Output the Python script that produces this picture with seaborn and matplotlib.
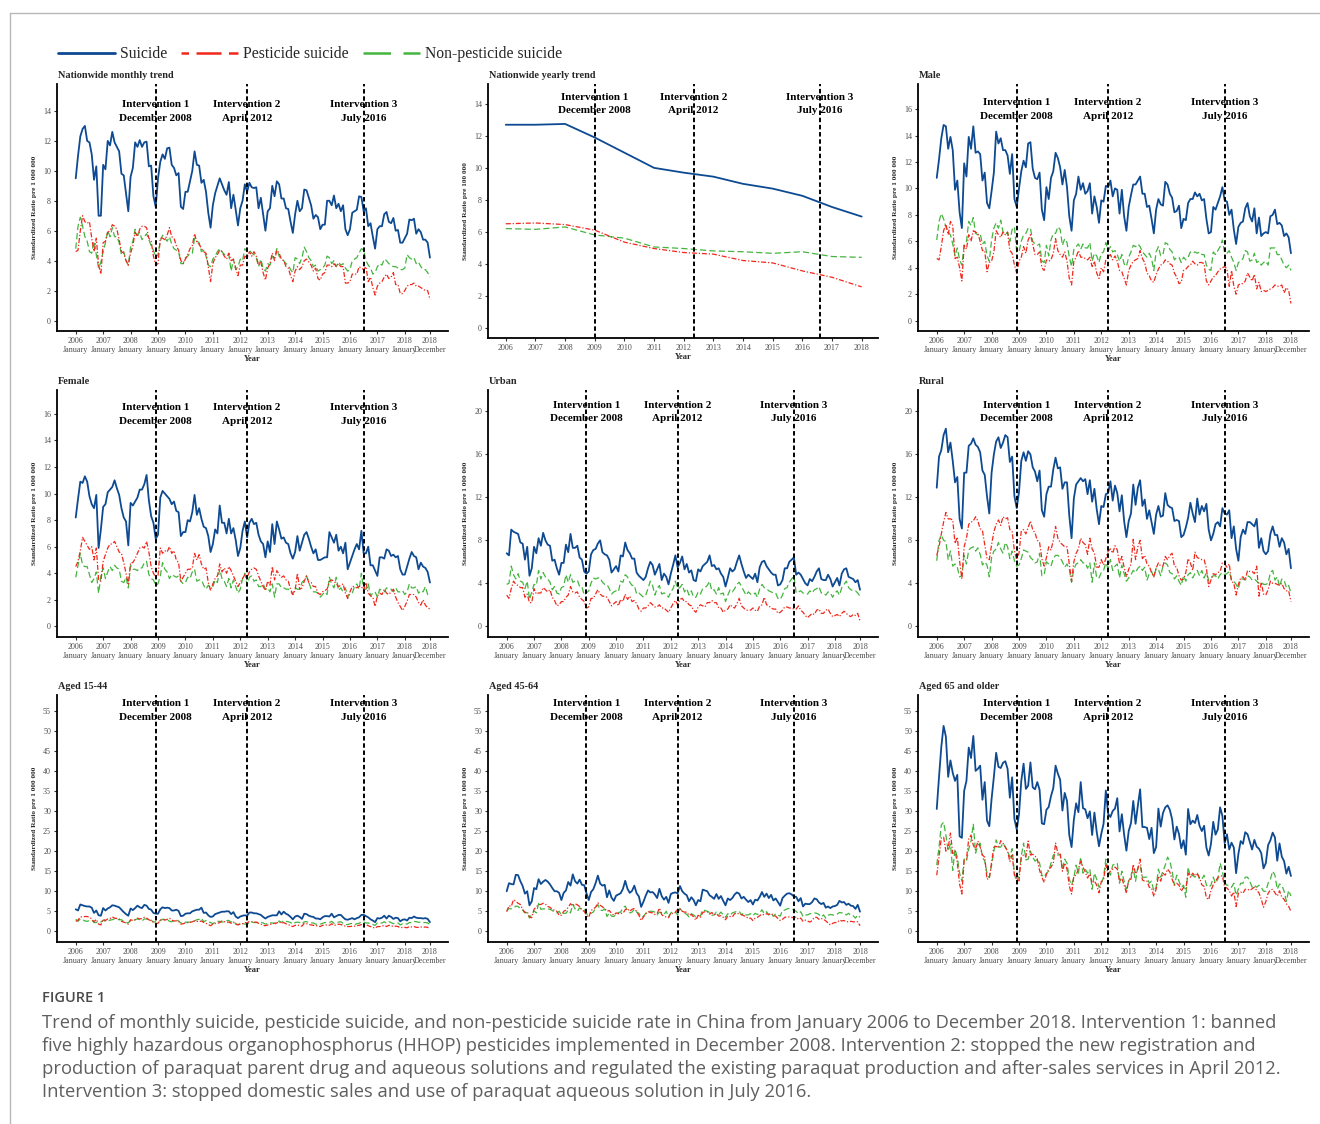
import numpy as np
import pandas as pd
import matplotlib
matplotlib.use("Agg")
import matplotlib.pyplot as plt
import seaborn as sns
from matplotlib.lines import Line2D

# ---------------- data ----------------
years = list(range(2006, 2019))
series_names = ["Suicide", "Pesticide suicide", "Non-pesticide suicide"]
month_ticks = [0, 12, 24, 36, 48, 60, 72, 84, 96, 108, 120, 132, 144, 155]
month_tick_labels = [f"{y}\nJanuary" for y in years] + ["2018\nDecember"]
interventions_month = [35, 75, 126]
interventions_year = [2009.0, 2012.33, 2016.58]
intervention_labels = ["Intervention 1\nDecember 2008", "Intervention 2\nApril 2012",
                       "Intervention 3\nJuly 2016"]

# Nationwide monthly
nat_suicide = [
    9.5, 11.0, 12.3, 12.8, 13.0, 12.0, 11.9, 11.1, 9.4, 10.3, 7.0, 7.0,
    10.4, 10.1, 12.0, 11.7, 12.6, 11.9, 11.6, 11.3, 9.8, 9.7, 8.5, 7.3,
    9.6, 10.2, 11.9, 11.6, 12.05, 11.6, 11.9, 11.95, 10.3, 10.35, 8.3, 7.6,
    9.5, 10.6, 11.1, 10.8, 11.5, 11.55, 10.4, 10.2, 9.7, 9.85, 7.6, 7.45,
    8.6, 8.6, 9.3, 10.0, 11.3, 10.4, 10.35, 9.2, 9.4, 8.6, 7.2, 6.2,
    7.7, 8.5, 9.0, 9.5, 9.1, 8.7, 8.4, 9.25, 7.5, 8.4, 7.4, 6.35,
    7.5, 8.0, 9.1, 8.6, 9.2, 8.9, 8.85, 8.9, 7.5, 8.2, 7.1, 6.0,
    7.3, 7.5, 9.0, 8.3, 9.3, 9.1, 8.15, 8.15, 7.5, 7.45, 6.6, 5.85,
    7.1, 8.0, 7.3, 7.5, 8.75, 8.7, 8.2, 7.7, 6.8, 7.05, 6.9, 6.1,
    6.4, 6.4, 8.0, 8.0, 7.7, 8.35, 7.5, 7.8, 7.3, 7.7, 6.1, 5.7,
    6.1, 7.2, 7.3, 7.4, 8.3, 8.25, 7.3, 7.5, 6.3, 6.5, 5.6, 4.8,
    6.1, 6.3, 6.3, 7.1, 7.25, 6.6, 6.5, 6.85, 6.0, 6.05, 5.2, 5.2,
    5.5, 5.8, 6.75, 6.7, 6.8, 5.8, 6.1, 5.9, 5.4, 5.4, 5.2, 4.2]
nat_pesticide = [
    4.6, 4.7, 6.0, 7.0, 6.6, 6.5, 6.6, 5.5, 4.6, 5.5, 3.7, 3.1,
    5.2, 5.3, 5.9, 6.0, 6.4, 6.3, 6.1, 5.4, 4.6, 4.5, 4.0, 3.7,
    4.5, 5.0, 5.9, 5.6, 6.1, 6.3, 6.3, 6.2, 5.5, 5.3, 4.3, 3.7,
    3.8, 5.5, 5.5, 5.4, 5.7, 6.2, 5.6, 5.5, 5.0, 4.7, 4.0, 3.8,
    4.1, 4.4, 4.8, 5.0, 5.8, 5.2, 5.1, 4.8, 4.6, 4.5, 3.6, 2.6,
    3.8, 4.2, 4.4, 4.7, 4.6, 4.3, 4.1, 4.5, 4.0, 4.1, 3.5, 3.0,
    3.7, 3.7, 4.3, 4.2, 4.6, 4.3, 4.6, 4.3, 3.7, 3.9, 3.2, 2.7,
    3.5, 3.8, 4.5, 4.0, 4.7, 4.5, 4.1, 4.0, 3.6, 3.5, 3.0, 2.6,
    3.3, 3.6, 3.4, 3.6, 4.0, 4.1, 3.9, 3.7, 3.3, 3.5, 2.8, 2.7,
    3.1, 3.2, 3.7, 3.7, 3.6, 3.8, 3.6, 3.8, 3.6, 3.6, 2.5, 2.5,
    2.6, 3.1, 3.1, 3.1, 3.6, 3.5, 3.4, 3.6, 2.6, 2.9, 2.2, 1.7,
    2.3, 2.5, 2.6, 2.9, 3.1, 2.8, 2.9, 3.2, 2.4, 2.4, 1.8, 1.8,
    2.0, 2.3, 2.4, 2.4, 2.5, 2.3, 2.3, 2.2, 2.1, 2.0, 2.0, 1.4]
nat_nonpest = [
    4.8, 6.3, 6.9, 6.3, 5.6, 5.3, 4.6, 4.5, 5.3, 4.4, 3.5, 3.9,
    4.6, 5.2, 6.0, 5.6, 6.2, 5.6, 5.6, 5.2, 4.4, 4.6, 4.0, 3.7,
    4.9, 5.3, 6.1, 5.7, 5.9, 5.4, 5.6, 5.8, 5.4, 5.0, 4.7, 4.2,
    4.4, 5.3, 5.7, 5.5, 5.3, 5.6, 5.1, 4.8, 4.7, 4.6, 3.8, 3.8,
    4.2, 4.3, 4.5, 4.5, 5.5, 5.3, 5.2, 4.6, 4.7, 4.3, 3.7, 3.6,
    4.1, 4.3, 4.6, 4.8, 4.6, 4.4, 4.5, 4.4, 3.3, 4.1, 3.4, 3.6,
    4.1, 4.0, 4.8, 4.6, 4.7, 4.5, 4.4, 4.2, 3.6, 4.1, 3.5, 3.3,
    3.8, 3.7, 4.3, 4.2, 4.8, 4.3, 4.1, 4.0, 3.8, 3.7, 3.4, 3.2,
    4.2, 4.1, 3.8, 4.2, 4.9, 4.6, 4.2, 4.0, 3.6, 3.7, 3.3, 3.4,
    3.5, 3.7, 4.3, 4.2, 3.8, 4.0, 3.6, 3.9, 3.7, 3.8, 3.5, 3.3,
    3.4, 4.0, 4.1, 4.2, 4.5, 4.8, 4.7, 4.0, 3.7, 3.5, 3.1, 3.2,
    3.6, 3.8, 3.7, 4.1, 4.0, 3.8, 3.7, 3.6, 3.6, 3.5, 3.4, 3.4,
    3.5, 4.4, 4.2, 4.1, 4.2, 3.8, 3.9, 3.6, 3.4, 3.4, 3.2, 2.9]

# Nationwide yearly
year_suicide = [12.7, 12.7, 12.75, 11.9, 10.95, 10.0, 9.7, 9.45, 9.0, 8.7, 8.25, 7.55, 6.95]
year_pesticide = [6.5, 6.55, 6.45, 6.1, 5.35, 4.95, 4.7, 4.6, 4.2, 4.05, 3.55, 3.15, 2.55]
year_nonpest = [6.2, 6.15, 6.3, 5.8, 5.6, 5.05, 4.95, 4.8, 4.75, 4.65, 4.75, 4.45, 4.4]

# Male
male_suicide = [
    10.8, 12.2, 13.8, 14.8, 14.7, 13.0, 13.9, 12.9, 9.9, 10.6, 8.2, 7.0,
    11.9, 10.9, 13.9, 13.0, 14.7, 12.7, 12.8, 12.6, 10.6, 11.2, 8.9, 8.5,
    9.8, 11.2, 14.3, 13.4, 13.8, 12.9, 12.9, 12.5, 11.1, 12.6, 9.2, 8.6,
    10.0, 11.3, 12.1, 11.6, 13.4, 13.5, 11.5, 10.8, 10.7, 11.2, 8.4, 7.6,
    10.1, 9.2, 10.8, 11.3, 12.7, 12.3, 11.6, 10.3, 11.4, 10.1, 7.9, 6.8,
    9.1, 9.6, 10.9, 9.9, 10.4, 9.6, 9.8, 10.4, 8.1, 9.4, 8.6, 7.4,
    9.1, 9.0, 10.2, 10.1, 10.6, 9.4, 10.0, 9.9, 8.1, 9.9, 7.9, 6.8,
    8.6, 9.5, 10.3, 10.3, 10.6, 10.9, 9.6, 9.6, 8.6, 8.7, 7.7, 6.6,
    8.4, 9.2, 8.8, 8.7, 10.5, 10.3, 9.6, 9.3, 8.2, 8.3, 8.7, 7.0,
    7.7, 7.6, 8.9, 9.2, 9.2, 9.7, 9.4, 9.6, 9.1, 9.2, 7.7, 6.6,
    6.7, 8.6, 8.4, 8.9, 9.4, 10.1, 9.1, 9.0, 8.0, 8.4, 6.9, 5.8,
    7.1, 7.4, 7.5, 8.5, 8.9, 7.9, 7.5, 8.5, 6.6, 7.8, 6.4, 6.6,
    6.7, 6.6, 7.9, 8.0, 8.4, 7.3, 7.4, 7.2, 6.4, 6.6, 6.3, 5.1]
male_pesticide = [
    4.7, 4.6, 5.6, 6.8, 7.3, 6.5, 7.5, 7.2, 4.7, 4.8, 4.0, 3.0,
    5.7, 5.4, 6.5, 6.0, 6.8, 6.7, 6.6, 6.0, 5.3, 5.3, 3.7, 4.4,
    4.5, 5.2, 6.8, 6.5, 6.3, 6.7, 6.5, 6.7, 5.3, 5.1, 4.2, 3.6,
    4.5, 4.8, 5.6, 5.1, 6.1, 6.5, 5.8, 5.0, 5.0, 5.2, 4.0, 3.8,
    4.6, 4.5, 4.6, 5.1, 6.2, 5.3, 5.0, 4.8, 5.2, 4.5, 3.2, 2.7,
    4.5, 4.8, 5.3, 4.8, 4.8, 4.7, 4.6, 4.8, 4.1, 4.5, 3.6, 3.2,
    4.0, 3.7, 4.6, 4.8, 5.0, 4.6, 4.9, 4.5, 3.8, 3.7, 3.2, 2.7,
    3.8, 4.2, 4.5, 4.6, 4.7, 5.3, 4.7, 4.4, 3.6, 3.4, 3.0, 2.9,
    3.5, 3.9, 4.2, 4.3, 4.6, 4.5, 4.3, 4.2, 3.6, 3.3, 2.8, 2.9,
    3.8, 3.9, 4.1, 4.2, 4.5, 4.3, 4.2, 4.4, 4.4, 4.3, 3.0, 2.7,
    3.0, 3.3, 3.4, 3.7, 3.9, 4.0, 4.1, 3.9, 2.6, 3.8, 2.6, 2.0,
    2.7, 2.8, 2.8, 3.0, 3.6, 3.3, 3.0, 3.5, 2.4, 2.9, 2.2, 2.3,
    2.2, 2.3, 2.4, 2.5, 2.7, 2.6, 2.6, 2.7, 2.1, 2.5, 2.3, 1.3]
male_nonpest = [
    6.1, 7.5, 8.1, 7.7, 7.1, 6.7, 6.5, 5.8, 4.9, 5.5, 4.6, 4.2,
    5.7, 6.0, 7.5, 7.2, 7.8, 6.6, 6.5, 6.6, 5.8, 6.0, 4.9, 4.5,
    6.1, 7.0, 7.4, 7.0, 7.6, 6.7, 6.5, 6.7, 6.0, 6.9, 7.1, 5.2,
    5.2, 6.0, 6.5, 6.6, 7.0, 7.0, 6.0, 5.8, 5.7, 5.8, 4.5, 4.4,
    5.7, 4.9, 6.1, 6.6, 6.6, 7.1, 6.9, 5.7, 6.2, 5.9, 4.8, 4.1,
    5.4, 5.6, 5.8, 5.4, 5.8, 5.5, 5.5, 5.9, 4.5, 5.1, 4.9, 4.4,
    5.1, 5.2, 5.9, 5.3, 5.6, 5.2, 5.3, 5.0, 4.5, 5.0, 4.3, 4.1,
    4.8, 5.2, 5.7, 5.6, 5.8, 5.6, 5.2, 5.0, 4.8, 5.1, 4.7, 3.8,
    5.2, 5.6, 4.9, 5.0, 5.9, 5.8, 5.4, 5.2, 4.6, 4.8, 4.8, 4.4,
    4.8, 4.6, 4.8, 5.2, 5.1, 5.2, 5.1, 5.2, 5.0, 5.0, 4.2, 3.9,
    3.8, 5.2, 5.0, 5.3, 5.6, 6.1, 5.1, 5.1, 5.3, 4.8, 4.4, 3.8,
    4.4, 4.5, 4.7, 5.3, 5.2, 4.5, 4.6, 5.1, 4.4, 4.5, 4.2, 4.4,
    4.5, 4.2, 5.5, 5.5, 5.5, 5.0, 5.0, 4.6, 4.2, 4.0, 4.2, 3.8]

# Female
female_suicide = [
    8.2, 9.6, 10.9, 10.8, 11.3, 10.9, 9.8, 9.2, 8.9, 9.9, 5.9, 7.3,
    9.0, 9.2, 10.1, 10.3, 10.5, 11.0, 10.4, 9.9, 8.9, 8.2, 7.9, 6.1,
    9.3, 9.1, 9.4, 9.7, 10.3, 10.3, 10.7, 11.4, 9.5, 8.3, 7.8, 6.6,
    6.9, 9.7, 10.2, 10.0, 9.8, 9.6, 9.2, 9.4, 8.7, 8.6, 6.8, 7.1,
    7.1, 8.0, 7.9, 8.6, 9.9, 8.4, 8.9, 8.1, 7.5, 7.4, 6.8, 5.6,
    6.2, 7.3, 7.0, 9.1, 7.8, 7.8, 7.0, 8.1, 7.0, 7.4, 6.5, 5.3,
    5.9, 7.2, 7.9, 6.7, 7.8, 8.1, 7.7, 7.8, 6.9, 6.4, 6.2, 5.2,
    6.4, 5.6, 7.7, 6.2, 7.9, 7.3, 6.6, 6.7, 6.3, 6.2, 5.5, 5.1,
    5.6, 6.8, 5.7, 6.3, 6.9, 7.1, 6.6, 6.0, 5.5, 5.8, 5.0, 5.0,
    5.1, 5.2, 5.2, 7.1, 6.7, 6.3, 6.9, 5.7, 6.0, 5.5, 6.3, 4.3,
    4.8, 5.3, 5.8, 6.2, 5.8, 7.2, 5.5, 5.5, 6.0, 4.6, 4.6, 4.2,
    3.8, 5.2, 5.2, 5.1, 5.8, 5.7, 5.3, 5.4, 5.2, 5.3, 4.3, 3.9,
    3.9, 4.5, 5.1, 5.6, 5.3, 5.2, 4.3, 4.8, 4.5, 4.4, 4.1, 3.3]
female_pesticide = [
    4.5, 4.9, 5.7, 6.7, 6.4, 6.1, 5.8, 6.0, 5.0, 5.9, 3.5, 3.4,
    4.9, 5.4, 5.9, 6.2, 6.2, 6.4, 6.0, 5.6, 5.5, 4.8, 4.0, 3.2,
    4.8, 4.8, 5.1, 5.5, 5.9, 6.0, 5.9, 6.4, 5.6, 4.5, 4.0, 3.7,
    3.8, 5.9, 5.5, 5.7, 5.6, 6.0, 5.5, 5.7, 5.0, 4.8, 3.4, 3.7,
    4.0, 4.3, 4.3, 4.4, 5.5, 5.0, 5.4, 4.7, 4.3, 4.4, 3.3, 2.7,
    3.2, 3.6, 3.8, 4.7, 4.1, 4.4, 4.0, 4.5, 4.2, 3.8, 3.4, 3.0,
    3.3, 3.6, 3.9, 3.7, 4.1, 4.3, 4.4, 4.3, 3.8, 3.4, 3.0, 2.7,
    3.4, 3.1, 4.5, 3.5, 4.2, 3.9, 3.7, 3.8, 3.5, 3.4, 2.8, 2.4,
    2.7, 4.0, 2.8, 2.9, 3.4, 3.8, 3.3, 3.3, 3.0, 3.0, 2.5, 2.4,
    2.6, 2.7, 2.8, 3.4, 3.5, 3.4, 3.2, 3.0, 3.1, 3.2, 2.5, 2.1,
    2.6, 3.0, 3.0, 2.9, 3.0, 3.0, 2.7, 3.3, 2.5, 2.3, 2.2, 1.5,
    2.3, 2.5, 2.4, 2.8, 2.5, 2.4, 2.6, 2.8, 2.2, 1.8, 1.5, 1.2,
    1.5, 1.9, 2.4, 2.4, 2.4, 2.2, 1.8, 1.6, 2.0, 1.6, 1.4, 1.3]
female_nonpest = [
    3.7, 4.6, 5.5, 4.6, 4.5, 4.5, 3.9, 3.3, 3.6, 4.1, 2.5, 3.8,
    4.4, 3.6, 4.1, 4.5, 4.2, 4.6, 4.4, 4.3, 3.4, 3.3, 3.7, 2.9,
    4.6, 4.3, 4.3, 4.2, 4.4, 4.4, 4.8, 4.9, 3.9, 3.6, 3.5, 3.1,
    3.2, 3.8, 4.8, 4.3, 4.1, 3.6, 3.9, 3.8, 3.7, 3.8, 3.4, 3.2,
    3.3, 3.7, 3.6, 4.1, 4.3, 3.4, 3.5, 3.5, 3.1, 2.8, 3.1, 2.9,
    3.0, 3.5, 3.3, 4.3, 3.6, 3.4, 3.0, 3.6, 2.9, 3.5, 3.0, 2.5,
    2.8, 3.6, 4.0, 3.1, 3.7, 3.8, 3.4, 3.5, 3.0, 3.0, 3.2, 2.8,
    2.9, 2.6, 3.2, 2.2, 3.2, 3.2, 2.9, 2.9, 2.8, 2.8, 2.6, 2.4,
    2.9, 2.8, 2.8, 3.3, 3.5, 3.8, 3.3, 2.8, 2.6, 2.6, 2.5, 2.2,
    2.4, 2.6, 2.4, 3.7, 3.2, 2.9, 3.7, 2.7, 2.9, 2.6, 2.9, 2.2,
    2.5, 2.5, 3.0, 3.2, 2.8, 4.0, 2.8, 2.8, 3.2, 2.3, 2.5, 2.6,
    2.2, 2.8, 2.7, 2.6, 2.9, 2.8, 2.8, 2.6, 2.9, 2.6, 2.6, 2.7,
    2.4, 2.6, 3.2, 2.9, 2.9, 3.0, 2.5, 2.7, 2.6, 3.0, 2.4, 2.2]

# Urban
urban_suicide = [
    6.8, 6.6, 9.0, 8.8, 8.7, 8.6, 7.8, 7.7, 6.2, 7.4, 4.7, 5.4,
    7.4, 6.8, 8.2, 7.5, 8.7, 8.0, 7.6, 7.5, 6.1, 6.2, 5.4, 4.8,
    5.9, 5.9, 7.6, 6.9, 8.6, 7.3, 7.3, 7.5, 6.4, 6.2, 5.1, 4.9,
    5.1, 6.7, 7.1, 7.2, 7.7, 8.0, 6.9, 6.7, 6.6, 6.2, 5.0, 5.3,
    5.6, 5.1, 6.6, 6.5, 7.8, 7.1, 6.8, 6.3, 6.3, 5.0, 4.7, 4.5,
    4.3, 4.6, 5.4, 6.0, 5.7, 4.8, 5.3, 5.8, 4.3, 4.9, 4.6, 3.9,
    4.9, 5.7, 6.6, 5.5, 5.9, 6.5, 5.3, 5.8, 5.0, 5.2, 4.3, 4.2,
    5.3, 5.1, 5.6, 5.8, 6.0, 6.6, 5.6, 5.7, 5.3, 5.4, 4.9, 4.6,
    3.7, 4.5, 5.4, 5.1, 5.3, 6.0, 6.6, 5.8, 5.1, 4.5, 4.8, 4.6,
    4.4, 4.9, 4.1, 5.5, 6.0, 6.1, 5.6, 5.3, 5.0, 4.8, 4.8, 3.8,
    3.9, 4.3, 5.4, 5.4, 6.0, 6.2, 6.4, 4.8, 5.0, 4.8, 4.4, 4.0,
    3.8, 4.4, 4.2, 4.6, 5.1, 5.4, 4.4, 4.3, 4.3, 4.8, 4.4, 3.7,
    4.1, 4.5, 3.8, 4.9, 5.3, 5.4, 4.6, 4.5, 4.4, 4.1, 4.3, 3.4]
urban_pesticide = [
    2.9, 2.6, 3.5, 4.2, 3.9, 3.8, 3.6, 3.6, 2.7, 3.0, 2.2, 2.2,
    3.5, 3.0, 3.1, 3.1, 3.6, 3.4, 3.2, 3.4, 2.7, 2.4, 1.9, 2.0,
    2.3, 2.3, 2.7, 2.9, 3.7, 3.2, 3.1, 3.2, 2.7, 2.5, 2.3, 1.7,
    1.8, 2.6, 2.6, 3.0, 3.4, 3.0, 2.8, 2.8, 2.7, 2.3, 1.9, 2.1,
    2.3, 1.9, 2.5, 2.3, 3.0, 2.5, 2.8, 2.3, 2.4, 2.1, 1.6, 1.4,
    1.7, 1.7, 1.9, 2.2, 2.0, 1.8, 1.8, 2.0, 1.7, 1.7, 1.5, 1.3,
    1.7, 2.1, 2.4, 2.0, 2.5, 2.6, 2.3, 2.3, 2.0, 1.9, 1.5, 1.3,
    1.8, 2.0, 1.9, 1.8, 2.2, 2.2, 2.4, 2.2, 2.2, 1.7, 1.7, 1.3,
    1.5, 1.6, 2.0, 1.8, 1.7, 2.1, 2.6, 1.9, 1.7, 1.5, 1.5, 1.5,
    1.7, 1.5, 1.4, 1.9, 2.0, 2.7, 2.0, 1.9, 1.7, 1.6, 1.6, 1.2,
    1.3, 1.5, 1.8, 1.8, 1.7, 1.7, 1.6, 1.6, 1.9, 1.5, 1.3, 1.0,
    0.8, 1.0, 1.2, 1.1, 1.5, 1.6, 1.2, 1.2, 1.5, 1.6, 1.2, 0.9,
    1.0, 1.1, 0.9, 1.2, 1.4, 1.2, 1.0, 0.9, 1.1, 1.0, 1.2, 0.5]
urban_nonpest = [
    3.9, 4.0, 5.6, 4.8, 4.4, 4.9, 4.2, 4.1, 3.5, 4.2, 2.5, 3.2,
    3.9, 3.8, 5.2, 4.4, 5.0, 4.6, 4.4, 4.1, 3.4, 3.7, 3.1, 3.0,
    3.6, 3.7, 4.8, 4.1, 4.8, 4.1, 4.2, 4.3, 3.7, 3.7, 2.9, 3.1,
    3.3, 4.0, 4.5, 4.4, 4.5, 4.5, 4.1, 3.9, 3.9, 3.5, 3.0, 3.2,
    3.3, 3.2, 4.2, 4.1, 4.8, 4.6, 4.1, 3.8, 3.8, 3.0, 3.1, 2.9,
    2.7, 2.9, 3.5, 4.2, 3.8, 2.9, 3.5, 3.8, 3.0, 3.1, 3.0, 2.7,
    3.2, 3.5, 4.2, 3.5, 3.6, 3.9, 3.2, 3.5, 2.9, 3.3, 2.7, 2.7,
    3.2, 3.0, 3.5, 3.6, 3.8, 4.2, 3.3, 3.4, 3.0, 3.6, 3.0, 3.1,
    2.3, 2.9, 3.4, 3.2, 3.5, 3.9, 4.1, 3.7, 3.3, 2.9, 3.2, 3.0,
    2.9, 3.1, 2.7, 3.5, 3.9, 3.6, 3.5, 3.3, 3.2, 3.1, 3.1, 2.6,
    2.5, 2.9, 3.5, 3.6, 4.1, 4.4, 4.7, 3.1, 3.2, 3.3, 3.1, 3.0,
    3.0, 3.3, 3.1, 3.4, 3.5, 3.7, 3.1, 3.1, 2.9, 3.2, 3.1, 2.7,
    3.1, 3.3, 2.9, 3.6, 3.9, 4.2, 3.6, 3.4, 3.3, 3.3, 3.1, 2.8]

# Rural
rural_suicide = [
    12.9, 15.8, 16.4, 17.8, 18.4, 16.2, 17.1, 15.4, 13.4, 13.9, 10.0, 9.1,
    14.3, 14.3, 16.8, 17.0, 17.5, 16.9, 16.7, 16.2, 14.5, 14.1, 12.1, 10.5,
    14.3, 16.0, 17.2, 17.6, 16.6, 17.1, 17.8, 17.6, 15.3, 15.8, 12.1, 11.0,
    12.5, 15.4, 16.2, 15.4, 16.3, 16.0, 14.8, 14.4, 13.5, 14.5, 10.8, 10.2,
    12.3, 13.0, 13.0, 14.6, 15.7, 14.7, 14.8, 12.8, 13.4, 13.4, 10.3, 8.2,
    11.9, 13.2, 13.5, 13.8, 13.5, 13.7, 12.3, 13.6, 11.6, 12.8, 10.9, 9.5,
    11.2, 11.1, 12.3, 12.4, 13.5, 11.7, 13.1, 12.4, 10.7, 12.2, 9.8, 8.3,
    9.8, 10.5, 13.2, 11.3, 12.9, 13.6, 11.2, 11.8, 10.0, 10.8, 9.7, 8.6,
    10.4, 11.2, 10.2, 10.3, 12.4, 11.3, 11.1, 11.0, 9.8, 9.9, 9.8, 8.3,
    8.5, 9.2, 10.1, 11.5, 10.5, 9.7, 11.9, 10.4, 11.2, 10.7, 11.4, 9.0,
    8.0, 8.6, 9.5, 9.7, 9.3, 11.0, 10.5, 10.4, 10.8, 8.2, 9.3, 7.2,
    6.1, 8.3, 9.0, 8.6, 9.7, 9.7, 9.5, 9.3, 10.0, 7.3, 8.2, 7.0,
    6.7, 7.0, 8.6, 9.3, 8.5, 8.5, 7.4, 8.2, 7.8, 6.7, 7.2, 5.4]
rural_pesticide = [
    6.6, 7.4, 8.6, 9.7, 10.6, 10.0, 10.0, 9.9, 7.7, 8.3, 6.1, 4.4,
    7.4, 8.2, 9.5, 9.7, 9.8, 10.2, 9.8, 9.1, 8.9, 7.6, 6.3, 6.2,
    7.6, 8.8, 9.5, 9.9, 9.4, 10.2, 10.0, 10.1, 9.0, 8.8, 7.0, 6.2,
    6.8, 8.9, 9.0, 8.6, 9.2, 9.8, 9.0, 8.7, 8.0, 7.8, 6.3, 5.6,
    6.4, 7.4, 7.1, 8.0, 9.3, 8.2, 7.8, 7.6, 7.4, 7.4, 5.8, 4.2,
    6.0, 6.8, 7.2, 8.2, 7.8, 7.6, 6.7, 8.2, 7.2, 6.8, 5.5, 5.5,
    6.2, 5.7, 6.3, 7.0, 7.2, 6.8, 7.5, 7.1, 5.8, 6.5, 5.5, 4.6,
    5.3, 5.8, 8.1, 6.2, 7.4, 8.0, 6.3, 6.6, 5.8, 5.6, 5.0, 4.6,
    5.4, 5.9, 5.6, 5.6, 6.5, 6.2, 6.6, 6.8, 5.6, 5.5, 4.7, 4.3,
    4.4, 5.0, 6.3, 5.9, 5.2, 6.9, 6.4, 6.3, 6.2, 6.2, 5.4, 3.7,
    4.3, 4.9, 4.8, 5.0, 5.1, 5.9, 5.8, 5.5, 5.8, 4.2, 4.0, 2.9,
    3.9, 4.5, 4.6, 4.3, 5.2, 5.1, 5.1, 4.9, 5.6, 2.8, 4.1, 3.0,
    2.9, 3.4, 4.2, 4.0, 4.0, 3.9, 3.8, 4.0, 3.5, 3.3, 3.3, 2.3]
rural_nonpest = [
    6.1, 8.0, 8.5, 8.0, 7.9, 6.2, 7.0, 5.6, 5.8, 5.5, 4.6, 4.7,
    6.6, 5.8, 7.1, 7.3, 7.4, 7.0, 7.3, 6.7, 5.7, 6.0, 5.7, 4.6,
    6.4, 7.0, 7.2, 7.8, 7.2, 6.8, 7.8, 7.4, 6.3, 7.0, 6.1, 5.6,
    5.7, 6.3, 7.1, 7.0, 6.9, 6.4, 6.2, 5.9, 6.0, 6.8, 4.7, 4.8,
    6.0, 5.8, 5.6, 6.3, 6.6, 6.6, 6.4, 6.0, 5.5, 5.8, 5.3, 4.1,
    5.3, 5.8, 5.9, 6.2, 5.9, 5.9, 5.4, 5.9, 4.1, 5.9, 4.5, 4.5,
    5.0, 5.2, 5.9, 5.4, 6.2, 5.2, 5.6, 5.8, 4.5, 5.7, 4.9, 4.2,
    4.5, 4.8, 5.2, 5.0, 5.4, 5.6, 5.2, 5.5, 4.3, 4.9, 5.1, 4.6,
    5.4, 5.3, 4.7, 5.6, 5.9, 5.7, 5.0, 4.9, 4.4, 4.7, 4.2, 3.8,
    4.7, 4.2, 4.8, 5.0, 4.5, 4.9, 5.2, 4.7, 5.2, 4.5, 5.0, 4.3,
    4.5, 4.7, 4.7, 4.4, 4.8, 5.0, 4.8, 4.9, 5.1, 4.3, 4.2, 3.9,
    3.5, 4.4, 4.4, 4.3, 4.7, 4.6, 4.3, 4.4, 4.2, 4.0, 4.1, 3.9,
    3.9, 4.0, 5.0, 5.2, 4.3, 4.6, 3.7, 4.4, 4.3, 3.6, 3.8, 3.1]

# Aged 15-44
age1544_suicide = [
    5.5, 5.2, 6.7, 6.5, 6.3, 6.2, 6.2, 5.9, 4.6, 5.2, 4.0, 3.9,
    5.8, 5.2, 5.7, 6.0, 6.5, 6.4, 6.2, 6.0, 5.4, 4.8, 4.3, 3.9,
    5.7, 5.3, 5.8, 6.4, 6.0, 5.8, 6.6, 6.4, 5.6, 5.4, 4.6, 4.4,
    4.4, 5.5, 6.0, 5.8, 5.9, 5.8, 5.2, 5.2, 5.4, 5.1, 3.8, 3.9,
    4.4, 4.5, 4.5, 5.0, 5.2, 5.4, 5.4, 5.9, 4.6, 4.7, 4.0, 3.6,
    3.7, 4.3, 4.5, 4.7, 4.9, 4.9, 5.0, 5.0, 4.3, 4.8, 3.7, 3.3,
    3.7, 3.9, 4.0, 3.9, 4.7, 4.7, 4.5, 4.5, 4.3, 4.1, 3.6, 3.2,
    3.6, 3.8, 4.0, 4.0, 4.0, 5.0, 4.2, 4.9, 4.4, 4.1, 3.6, 3.0,
    3.7, 3.9, 3.6, 3.1, 4.4, 4.3, 3.9, 3.7, 3.6, 3.2, 3.2, 3.0,
    3.5, 3.8, 3.8, 3.7, 4.4, 3.5, 3.8, 4.1, 4.1, 3.5, 3.0, 2.9,
    3.1, 3.3, 3.0, 3.3, 3.5, 4.1, 4.1, 3.8, 3.5, 3.0, 2.7, 2.3,
    3.3, 3.2, 3.4, 3.9, 3.2, 3.9, 3.6, 3.1, 3.4, 3.3, 2.5, 2.9,
    3.0, 2.7, 3.4, 3.3, 3.7, 3.4, 3.3, 3.3, 3.2, 3.3, 3.1, 2.3]
age1544_pesticide = [
    2.5, 2.8, 3.6, 3.6, 3.7, 3.7, 3.5, 3.1, 2.4, 3.0, 1.8, 1.6,
    3.0, 2.7, 3.1, 3.2, 3.6, 3.3, 3.2, 3.1, 2.5, 2.3, 2.1, 1.8,
    2.9, 2.7, 2.9, 3.3, 3.1, 3.2, 3.5, 3.3, 2.9, 2.6, 2.3, 2.0,
    2.0, 2.8, 3.0, 2.8, 3.0, 3.3, 2.8, 2.6, 2.6, 2.5, 1.8, 1.9,
    2.1, 2.2, 2.2, 2.4, 2.6, 2.5, 2.4, 2.6, 2.2, 2.0, 1.7, 1.4,
    1.8, 2.0, 2.0, 2.2, 2.6, 2.4, 2.3, 2.3, 2.0, 2.3, 1.8, 1.6,
    1.9, 1.9, 2.2, 2.1, 2.5, 2.4, 2.3, 2.3, 2.0, 1.8, 1.5, 1.4,
    1.6, 1.7, 1.9, 2.0, 2.1, 2.4, 2.0, 2.2, 1.9, 1.7, 1.4, 1.2,
    1.5, 1.6, 1.4, 1.3, 2.0, 1.9, 1.7, 1.6, 1.5, 1.4, 1.4, 1.2,
    1.5, 1.6, 1.6, 1.5, 1.9, 1.5, 1.6, 1.8, 1.7, 1.5, 1.3, 1.2,
    1.2, 1.3, 1.3, 1.4, 1.5, 1.7, 1.8, 1.7, 1.4, 1.2, 1.0, 0.8,
    1.2, 1.2, 1.3, 1.5, 1.2, 1.5, 1.4, 1.2, 1.3, 1.2, 0.9, 1.0,
    1.0, 0.9, 1.2, 1.1, 1.2, 1.0, 1.0, 1.1, 1.0, 1.1, 1.0, 0.6]
age1544_nonpest = [
    3.0, 2.5, 3.1, 2.9, 2.6, 2.5, 2.7, 2.8, 2.2, 2.2, 2.2, 2.3,
    2.8, 2.5, 2.6, 2.8, 2.9, 3.1, 3.0, 2.9, 2.9, 2.5, 2.2, 2.1,
    2.8, 2.6, 2.9, 3.1, 2.9, 2.6, 3.1, 3.1, 2.7, 2.8, 2.3, 2.4,
    2.4, 2.7, 3.0, 3.0, 2.9, 2.5, 2.4, 2.6, 2.8, 2.6, 2.1, 2.0,
    2.3, 2.3, 2.3, 2.6, 2.6, 2.9, 3.0, 3.3, 2.4, 2.7, 2.3, 2.2,
    1.9, 2.3, 2.5, 2.5, 2.3, 2.5, 2.7, 2.7, 2.3, 2.5, 1.9, 1.7,
    1.8, 2.0, 1.8, 1.8, 2.2, 2.3, 2.2, 2.2, 2.3, 2.3, 2.1, 1.8,
    2.0, 2.1, 2.1, 2.0, 1.9, 2.6, 2.2, 2.7, 2.5, 2.4, 2.2, 1.8,
    2.2, 2.3, 2.2, 1.8, 2.4, 2.4, 2.2, 2.1, 2.1, 1.8, 1.8, 1.8,
    2.0, 2.2, 2.2, 2.2, 2.5, 2.0, 2.2, 2.3, 2.4, 2.0, 1.7, 1.7,
    1.9, 2.0, 1.7, 1.9, 2.0, 2.4, 2.3, 2.1, 2.1, 1.8, 1.7, 1.5,
    2.1, 2.0, 2.1, 2.4, 2.0, 2.4, 2.2, 1.9, 2.1, 2.1, 1.6, 1.9,
    2.0, 1.8, 2.2, 2.2, 2.5, 2.4, 2.3, 2.2, 2.2, 2.2, 2.1, 1.7]

# Aged 45-64
age4564_suicide = [
    10.0, 12.0, 11.8, 11.7, 14.1, 14.0, 12.5, 11.3, 9.4, 10.0, 6.5, 7.5,
    10.8, 10.5, 13.0, 11.8, 12.4, 12.8, 12.4, 11.7, 10.8, 10.0, 10.0, 9.6,
    7.8, 9.6, 10.2, 12.3, 11.4, 14.2, 12.5, 11.9, 12.9, 11.6, 11.5, 9.5,
    7.8, 9.8, 10.5, 12.0, 13.9, 11.9, 11.4, 11.6, 8.5, 10.2, 8.4, 7.6,
    8.9, 9.2, 9.5, 10.6, 12.6, 10.6, 9.6, 10.1, 11.4, 9.5, 8.7, 6.1,
    7.4, 8.9, 10.2, 9.7, 9.8, 9.2, 8.3, 10.6, 8.8, 7.9, 8.6, 7.1,
    9.3, 9.6, 9.7, 9.5, 11.3, 10.0, 9.4, 9.0, 7.5, 8.5, 7.8, 6.5,
    7.8, 7.5, 10.4, 10.2, 10.0, 9.0, 8.6, 8.1, 9.3, 8.1, 8.8, 7.6,
    6.5, 8.2, 7.8, 8.3, 9.2, 9.7, 9.4, 8.2, 8.6, 7.9, 7.3, 7.8,
    6.7, 7.9, 7.7, 8.6, 9.8, 8.6, 9.4, 8.3, 9.1, 7.7, 8.2, 7.3,
    6.4, 8.3, 8.9, 9.4, 9.5, 9.2, 8.7, 8.6, 7.5, 8.3, 6.2, 6.9,
    6.8, 6.8, 7.3, 8.2, 8.0, 7.2, 6.8, 7.1, 5.9, 6.2, 5.8, 6.2,
    6.3, 6.6, 7.6, 7.2, 7.3, 6.6, 6.9, 6.4, 6.3, 5.6, 6.6, 4.9]
age4564_pesticide = [
    4.9, 6.4, 6.2, 7.9, 7.5, 7.0, 6.7, 5.5, 4.7, 4.9, 3.6, 3.4,
    5.5, 6.1, 6.7, 6.7, 7.0, 6.8, 6.2, 6.0, 5.4, 5.3, 5.0, 4.0,
    4.0, 5.0, 5.3, 6.0, 6.9, 6.3, 6.9, 6.6, 6.2, 5.3, 5.0, 4.0,
    3.5, 5.2, 5.6, 6.0, 7.1, 6.5, 6.1, 5.7, 5.0, 5.2, 4.5, 4.0,
    4.6, 4.4, 4.5, 4.5, 5.4, 5.7, 5.0, 5.5, 5.7, 5.0, 4.0, 2.7,
    3.6, 4.4, 4.9, 4.7, 4.6, 4.2, 4.4, 5.8, 4.2, 3.7, 3.6, 3.4,
    4.6, 4.4, 4.7, 5.5, 5.6, 5.0, 4.8, 4.8, 4.0, 4.2, 3.6, 2.8,
    4.0, 3.5, 4.7, 4.9, 4.9, 4.3, 4.7, 4.1, 4.4, 3.8, 3.9, 3.5,
    2.9, 3.8, 3.7, 3.6, 4.4, 4.6, 4.3, 4.2, 3.9, 3.7, 3.2, 3.3,
    2.7, 3.3, 3.5, 3.9, 4.3, 4.1, 4.4, 4.2, 4.5, 4.0, 3.8, 3.2,
    2.7, 3.0, 3.5, 3.6, 3.6, 3.5, 3.4, 3.6, 3.0, 3.3, 2.5, 2.8,
    2.6, 2.3, 2.7, 3.5, 3.5, 3.0, 3.2, 3.0, 2.6, 2.1, 1.6, 2.0,
    2.2, 2.2, 2.8, 2.6, 2.7, 2.4, 2.4, 2.5, 2.4, 2.3, 2.4, 1.4]
age4564_nonpest = [
    5.1, 5.7, 5.6, 5.8, 6.3, 6.2, 5.7, 5.3, 4.6, 4.7, 3.3, 4.2,
    5.1, 4.6, 6.9, 5.5, 5.6, 5.6, 5.6, 5.5, 5.2, 4.8, 4.6, 5.0,
    4.1, 4.5, 4.5, 5.3, 4.6, 6.7, 5.6, 5.0, 5.9, 5.4, 5.5, 4.4,
    4.1, 4.5, 4.8, 5.8, 6.7, 5.3, 5.2, 5.6, 3.7, 4.6, 3.8, 3.7,
    4.2, 4.7, 4.8, 5.9, 6.3, 5.1, 4.6, 4.8, 5.5, 4.8, 4.5, 3.5,
    3.7, 4.5, 5.0, 5.0, 5.0, 4.8, 4.1, 4.8, 4.6, 4.2, 5.0, 3.6,
    4.6, 5.0, 5.0, 4.0, 5.7, 5.0, 4.6, 4.2, 3.6, 4.4, 4.1, 3.6,
    3.8, 3.9, 5.4, 5.2, 5.0, 4.7, 4.0, 4.1, 4.8, 4.2, 4.8, 4.1,
    3.5, 4.4, 4.0, 4.6, 4.8, 5.0, 5.0, 4.1, 4.6, 4.1, 4.1, 4.4,
    3.9, 4.5, 4.2, 4.5, 5.4, 4.4, 4.9, 4.1, 4.6, 3.7, 4.4, 4.0,
    3.8, 5.2, 5.3, 5.6, 5.7, 5.6, 5.3, 5.0, 4.4, 4.9, 3.7, 4.1,
    4.1, 4.4, 4.5, 4.6, 4.5, 4.2, 3.6, 4.1, 3.3, 4.0, 4.2, 4.1,
    4.0, 4.3, 4.7, 4.6, 4.6, 4.1, 4.5, 3.9, 3.9, 3.3, 4.1, 3.5]

# Aged 65 and older
age65_suicide = [
    30.5, 38.5, 46.0, 51.2, 48.5, 38.5, 42.6, 39.5, 37.5, 39.0, 23.7, 23.3,
    35.0, 37.5, 45.8, 43.2, 48.7, 40.0, 40.5, 41.3, 32.8, 37.2, 27.6, 26.2,
    33.0, 38.5, 44.5, 41.0, 40.7, 42.0, 42.4, 40.5, 33.3, 38.4, 28.0, 25.4,
    29.2, 37.5, 41.8, 35.5, 36.3, 42.1, 35.9, 35.4, 37.2, 35.3, 26.9, 26.7,
    30.3, 31.0, 33.7, 35.7, 41.3, 39.3, 37.8, 30.1, 34.5, 32.5, 24.0, 21.0,
    27.8, 31.9, 29.7, 37.2, 30.7, 30.4, 28.2, 29.9, 24.0, 29.6, 24.8, 21.2,
    24.3, 26.8, 35.1, 29.3, 28.5, 30.0, 30.6, 33.2, 24.9, 29.2, 24.1, 20.1,
    25.0, 27.0, 32.5, 26.8, 31.3, 35.4, 26.0, 26.0, 25.8, 23.0, 25.8, 19.5,
    21.0, 30.6, 26.1, 29.5, 30.9, 31.4, 30.3, 27.9, 22.9, 26.1, 24.3, 20.7,
    22.7, 19.1, 30.5, 26.7, 27.6, 27.0, 29.0, 26.3, 25.0, 26.3, 20.9, 18.9,
    21.8, 27.3, 24.1, 25.4, 30.9, 28.8, 22.0, 24.2, 20.4, 22.1, 20.9, 14.5,
    19.3, 22.5, 21.8, 24.7, 24.2, 22.3, 20.4, 22.8, 21.1, 20.6, 19.5, 15.7,
    17.0, 21.5, 22.7, 24.6, 23.4, 17.6, 21.9, 18.6, 17.5, 14.4, 16.1, 13.8]
age65_pesticide = [
    14.0, 18.5, 23.3, 23.5, 20.0, 20.8, 24.5, 19.4, 20.0, 17.2, 11.8, 9.3,
    17.8, 18.0, 23.0, 24.0, 21.5, 20.3, 22.5, 21.0, 19.0, 18.5, 13.0, 13.2,
    17.2, 21.0, 21.2, 20.8, 22.6, 22.0, 21.0, 20.0, 17.4, 19.0, 14.0, 13.3,
    12.6, 18.5, 19.0, 18.5, 22.5, 19.0, 19.2, 18.8, 18.0, 15.2, 13.5, 12.2,
    14.2, 15.5, 16.0, 17.0, 22.0, 19.5, 19.5, 15.0, 17.0, 15.5, 11.3, 9.3,
    13.8, 14.0, 15.6, 17.5, 16.0, 14.8, 13.3, 14.3, 12.0, 12.6, 11.5, 9.6,
    12.4, 12.8, 16.6, 14.3, 15.0, 15.5, 16.0, 15.5, 12.5, 13.2, 11.5, 9.5,
    12.8, 13.0, 16.7, 14.3, 15.5, 18.0, 12.8, 12.5, 12.5, 11.0, 10.8, 8.7,
    10.5, 13.8, 12.5, 14.5, 14.0, 15.5, 14.8, 13.0, 11.5, 12.0, 11.5, 10.0,
    11.0, 10.6, 14.5, 13.5, 14.5, 13.8, 14.5, 13.3, 11.6, 11.2, 8.4, 7.9,
    10.2, 11.6, 12.5, 13.4, 13.8, 13.8, 11.0, 10.8, 10.2, 8.8, 9.8, 6.2,
    9.5, 9.8, 9.5, 10.5, 10.5, 10.2, 10.6, 11.0, 10.2, 9.6, 8.0, 6.0,
    7.4, 9.5, 10.3, 10.5, 9.6, 8.8, 10.1, 8.5, 8.0, 6.9, 6.2, 5.0]
age65_nonpest = [
    16.5, 21.0, 26.5, 27.2, 24.0, 20.0, 21.8, 15.2, 20.5, 18.5, 14.5, 12.5,
    18.0, 17.5, 20.5, 22.5, 26.8, 19.5, 21.5, 22.0, 18.5, 17.5, 14.5, 13.4,
    16.5, 20.0, 22.8, 21.0, 21.0, 22.0, 21.0, 20.0, 18.5, 20.6, 14.3, 12.3,
    14.0, 18.8, 22.0, 17.8, 18.0, 20.0, 18.5, 17.5, 18.0, 17.0, 14.0, 13.5,
    14.5, 15.0, 17.0, 19.0, 19.5, 19.0, 19.2, 15.5, 18.0, 17.0, 13.0, 11.5,
    13.5, 16.5, 14.5, 18.5, 14.5, 15.5, 14.5, 15.5, 10.5, 14.5, 13.0, 11.0,
    12.0, 13.5, 18.0, 15.0, 14.0, 16.5, 16.8, 17.0, 12.0, 15.0, 12.5, 10.5,
    12.5, 14.0, 15.5, 12.5, 16.0, 16.5, 13.5, 13.5, 13.5, 12.0, 12.5, 10.0,
    11.0, 15.5, 13.5, 15.0, 16.5, 18.5, 17.5, 15.0, 11.5, 14.0, 12.5, 11.0,
    11.5, 8.5, 16.0, 13.5, 14.0, 13.5, 14.5, 13.0, 13.0, 14.0, 11.5, 11.0,
    11.5, 13.5, 12.0, 13.0, 17.0, 15.0, 12.0, 11.5, 11.5, 11.0, 12.0, 9.0,
    10.5, 12.0, 12.0, 13.5, 13.5, 12.5, 11.0, 11.5, 11.0, 11.5, 11.0, 10.0,
    10.0, 12.0, 13.0, 15.0, 14.0, 10.5, 11.8, 11.5, 10.0, 7.5, 10.2, 8.8]

caption_lines = [
    "Trend of monthly suicide, pesticide suicide, and non-pesticide suicide rate in China from January 2006 to December 2018. Intervention 1: banned",
    "five highly hazardous organophosphorus (HHOP) pesticides implemented in December 2008. Intervention 2: stopped the new registration and",
    "production of paraquat parent drug and aqueous solutions and regulated the existing paraquat production and after-sales services in April 2012.",
    "Intervention 3: stopped domestic sales and use of paraquat aqueous solution in July 2016.",
]

# ---------------- style ----------------
sns.set_theme(style="ticks")
plt.rcParams['font.family'] = ['Liberation Serif', 'DejaVu Serif']
plt.rcParams['axes.facecolor'] = 'white'
plt.rcParams['figure.facecolor'] = 'white'

W, H = 1320, 1124
fig = plt.figure(figsize=(W / 100, H / 100), dpi=100)

C_BLUE = "#0d4a92"
C_RED = "#f0281c"
C_GREEN = "#44b53f"
LS_RED = (0, (4, 1.5, 1, 1.5))
LS_GREEN = (0, (5, 2.5))
TICK_GRAY = "#4d4d4d"


def add_ax(l, r, t, b):
    return fig.add_axes([l / W, 1 - b / H, (r - l) / W, (b - t) / H])


def style_axis(ax):
    sns.despine(ax=ax)
    for sp in ("left", "bottom"):
        ax.spines[sp].set_linewidth(1.3)
        ax.spines[sp].set_color("black")
    ax.tick_params(axis="both", length=2.5, width=0.8, color="#333333",
                   labelsize=5.8, labelcolor=TICK_GRAY, pad=1.8)


def draw_panel(ax, x, s, p, n, title, yticks, ylim, xlim, xticks, xticklabels,
               ivx, ivy, ylabel):
    df = pd.DataFrame({
        "x": np.concatenate([x, x, x]),
        "value": np.concatenate([s, p, n]),
        "series": np.repeat(series_names, len(x)),
    })
    specs = [("Non-pesticide suicide", C_GREEN, 0.9, LS_GREEN),
             ("Pesticide suicide", C_RED, 0.9, LS_RED),
             ("Suicide", C_BLUE, 1.3, "-")]
    for name, col, lw, ls in specs:
        sns.lineplot(data=df[df["series"] == name], x="x", y="value", ax=ax,
                     color=col, linewidth=lw, linestyle=ls, errorbar=None,
                     legend=False)
    for xv, lab in zip(ivx, intervention_labels):
        ax.axvline(xv, color="black", linestyle=(0, (2.3, 1.4)), linewidth=1.4,
                   zorder=5)
        ax.text(xv, ivy, lab, ha="center", va="center", fontsize=8.0,
                fontweight="bold", linespacing=1.7, color="black", zorder=6)
    ax.set_xlim(*xlim)
    ax.set_ylim(*ylim)
    ax.set_yticks(yticks)
    ax.set_xticks(xticks)
    ax.set_xticklabels(xticklabels, linespacing=1.25)
    ax.set_xlabel("Year", fontsize=6.0, fontweight="bold", labelpad=0.5)
    ax.set_ylabel(ylabel, fontsize=5.2, fontweight="bold", labelpad=4)
    style_axis(ax)
    bb = ax.get_position()
    fig.text(bb.x0 + 1 / W, bb.y1 + 8.5 / H, title, fontsize=7.4, fontweight="bold",
             ha="left", va="center")


months = np.arange(156)
mxlim = (-8.2, 162.9)
ylab_m = "Standardized Ratio pre 1 000 000"
ylab_y = "Standardized Ratio pre 100 000"

cols = [(57, 448), (488, 878), (918, 1309)]

# Row 1
ax = add_ax(*cols[0], 84, 331)
draw_panel(ax, months, nat_suicide, nat_pesticide, nat_nonpest, "Nationwide monthly trend",
           range(0, 15, 2), (-0.7, 15.8), mxlim, month_ticks, month_tick_labels,
           interventions_month, 13.98, ylab_m)

ax = add_ax(*cols[1], 84, 338)
draw_panel(ax, np.array(years, dtype=float), year_suicide, year_pesticide, year_nonpest,
           "Nationwide yearly trend", range(0, 15, 2), (-0.65, 15.25), (2005.4, 2018.55),
           years, [str(y) for y in years], interventions_year, 14.0, ylab_y)

ax = add_ax(*cols[2], 84, 331)
draw_panel(ax, months, male_suicide, male_pesticide, male_nonpest, "Male",
           range(0, 17, 2), (-0.78, 17.9), mxlim, month_ticks, month_tick_labels,
           interventions_month, 16.0, ylab_m)

# Row 2
ax = add_ax(*cols[0], 390, 637)
draw_panel(ax, months, female_suicide, female_pesticide, female_nonpest, "Female",
           range(0, 17, 2), (-0.8, 17.8), mxlim, month_ticks, month_tick_labels,
           interventions_month, 15.95, ylab_m)

ax = add_ax(*cols[1], 390, 637)
draw_panel(ax, months, urban_suicide, urban_pesticide, urban_nonpest, "Urban",
           range(0, 21, 4), (-1.0, 22.0), mxlim, month_ticks, month_tick_labels,
           interventions_month, 19.95, ylab_m)

ax = add_ax(*cols[2], 390, 637)
draw_panel(ax, months, rural_suicide, rural_pesticide, rural_nonpest, "Rural",
           range(0, 21, 4), (-1.0, 22.0), mxlim, month_ticks, month_tick_labels,
           interventions_month, 19.95, ylab_m)

# Row 3
ax = add_ax(*cols[0], 695, 942)
draw_panel(ax, months, age1544_suicide, age1544_pesticide, age1544_nonpest, "Aged 15-44",
           range(0, 56, 5), (-2.65, 58.9), mxlim, month_ticks, month_tick_labels,
           interventions_month, 55.0, ylab_m)

ax = add_ax(*cols[1], 695, 942)
draw_panel(ax, months, age4564_suicide, age4564_pesticide, age4564_nonpest, "Aged 45-64",
           range(0, 56, 5), (-2.65, 58.9), mxlim, month_ticks, month_tick_labels,
           interventions_month, 55.0, ylab_m)

ax = add_ax(*cols[2], 695, 942)
draw_panel(ax, months, age65_suicide, age65_pesticide, age65_nonpest, "Aged 65 and older",
           range(0, 56, 5), (-2.65, 58.9), mxlim, month_ticks, month_tick_labels,
           interventions_month, 55.0, ylab_m)

# Legend
handles = [Line2D([], [], color=C_BLUE, lw=2.0, linestyle="-"),
           Line2D([], [], color=C_RED, lw=1.8, linestyle=(7, (10, 3))),
           Line2D([], [], color=C_GREEN, lw=1.8, linestyle=(0, (11, 5)))]
fig.legend(handles, series_names, loc="center left",
           bbox_to_anchor=(58 / W, 1 - 54 / H), ncol=3, frameon=False,
           fontsize=11.3, handlelength=3.6, handletextpad=0.35,
           columnspacing=0.9, borderaxespad=0, borderpad=0)

# Page frame lines
fig.add_artist(Line2D([10 / W, 1.0], [1 - 13 / H, 1 - 13 / H], color="#b8b8b8", lw=1.0))
fig.add_artist(Line2D([10 / W, 10 / W], [1 - 13 / H, 0.0], color="#b8b8b8", lw=1.0))

# Caption
fig.text(42 / W, 1 - 998 / H, "FIGURE 1", fontsize=10.5, family=["Open Sans", "DejaVu Sans"],
         color="#4a4a4a", ha="left", va="center", fontweight="semibold")
for i, line in enumerate(caption_lines):
    fig.text(42 / W, 1 - (1022.5 + 23.3 * i) / H, line, fontsize=13.25,
             family=["Open Sans", "DejaVu Sans"], color="#5f5f5f", ha="left", va="center")

fig.savefig("out.png", dpi=100)
